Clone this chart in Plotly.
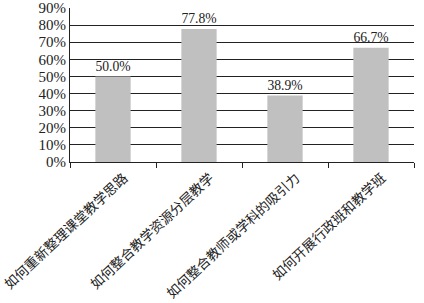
import plotly.graph_objects as go

categories = ["如何重新整理课堂教学思路", "如何整合教学资源分层教学", "如何整合教师或学科的吸引力", "如何开展行政班和教学班"]
values = [50.0, 77.8, 38.9, 66.7]
y_ticks = [0, 10, 20, 30, 40, 50, 60, 70, 80, 90]

fig = go.Figure(go.Bar(
    x=categories, y=values,
    marker=dict(color="#c0c0c0", line=dict(width=0)),
    width=0.41,
    text=[f"{v:.1f}%" for v in values],
    textposition="outside",
    textfont=dict(family="Liberation Serif", size=16, color="#222"),
    cliponaxis=False,
))

fig.update_layout(
    width=424, height=303,
    margin=dict(l=70, r=10, t=8, b=141),
    paper_bgcolor="white", plot_bgcolor="white",
    showlegend=False,
    xaxis=dict(
        type="category", tickangle=-43, automargin=False,
        tickfont=dict(family="Noto Sans CJK SC", size=13.5, color="#222"),
        ticks="outside", ticklen=5, tickcolor="#222", tickson="boundaries",
        ticklabelshift=11, ticklabelstandoff=2,
        showline=True, linecolor="#222", linewidth=1, showgrid=False,
    ),
    yaxis=dict(
        range=[0, 90], tickvals=y_ticks, ticktext=[f"{t}%" for t in y_ticks],
        automargin=False,
        tickfont=dict(family="Liberation Serif", size=15, color="#222"),
        showgrid=True, gridcolor="#222", gridwidth=1,
        showline=True, linecolor="#222", linewidth=1,
        ticks="", zeroline=False,
    ),
    bargap=0.59,
)

fig.write_html("out.html")
